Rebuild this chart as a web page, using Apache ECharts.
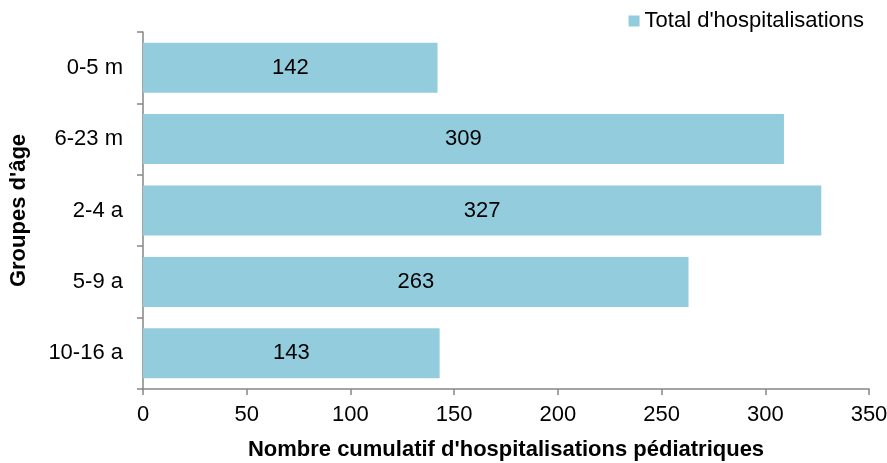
<!DOCTYPE html>
<html>
<head>
<meta charset="utf-8">
<script src="https://cdn.jsdelivr.net/npm/echarts@6/dist/echarts.min.js"></script>
<style>
  html, body { margin: 0; padding: 0; background: #fff; }
  #chart { width: 887px; height: 463px; }
</style>
</head>
<body>
<div id="chart"></div>
<script>
// groupes d'âge, du haut vers le bas
var categories = ['0-5 m', '6-23 m', '2-4 a', '5-9 a', '10-16 a'];
var hospitalisations = [142, 309, 327, 263, 143];
var xTicks = [0, 50, 100, 150, 200, 250, 300, 350];

var axisColor = '#868686';
var font = 'Liberation Sans';
var fs = 22;

var chart = echarts.init(document.getElementById('chart'));
chart.setOption({
  animation: false,
  textStyle: { fontFamily: font },
  legend: {
    data: ['Total d\'hospitalisations'],
    right: 18,
    top: 5,
    itemWidth: 11,
    itemHeight: 11,
    itemGap: 8,
    icon: 'rect',
    textStyle: { fontSize: fs, color: '#000', fontFamily: font }
  },
  grid: { left: 143, right: 18, top: 32, bottom: 74, containLabel: false, outerBoundsMode: 'none' },
  xAxis: {
    type: 'value',
    min: xTicks[0],
    max: xTicks[xTicks.length - 1],
    interval: 50,
    name: 'Nombre cumulatif d\'hospitalisations pédiatriques',
    nameLocation: 'middle',
    nameGap: 50,
    nameTextStyle: { fontSize: fs, fontWeight: 'bold', color: '#000', fontFamily: font },
    axisLine: { show: true, lineStyle: { color: axisColor, width: 1.5 } },
    axisTick: { show: true, length: 6, lineStyle: { color: axisColor, width: 1.5 } },
    axisLabel: { fontSize: fs, color: '#000', margin: 15 },
    splitLine: { show: false }
  },
  yAxis: {
    type: 'category',
    data: categories,
    inverse: true,
    name: 'Groupes d\'âge',
    nameLocation: 'middle',
    nameGap: 113,
    nameRotate: 90,
    nameTextStyle: { fontSize: fs, fontWeight: 'bold', color: '#000', fontFamily: font },
    axisLine: { show: true, lineStyle: { color: axisColor, width: 1.5 } },
    axisTick: { show: true, length: 6, alignWithLabel: false, lineStyle: { color: axisColor, width: 1.5 } },
    axisLabel: { fontSize: fs, color: '#000', margin: 20 }
  },
  series: [{
    name: 'Total d\'hospitalisations',
    type: 'bar',
    data: hospitalisations,
    barCategoryGap: '30%',
    itemStyle: { color: '#93CDDD' },
    label: {
      show: true,
      position: 'inside',
      fontSize: fs,
      color: '#000',
      fontFamily: font
    }
  }]
});
</script>
</body>
</html>
